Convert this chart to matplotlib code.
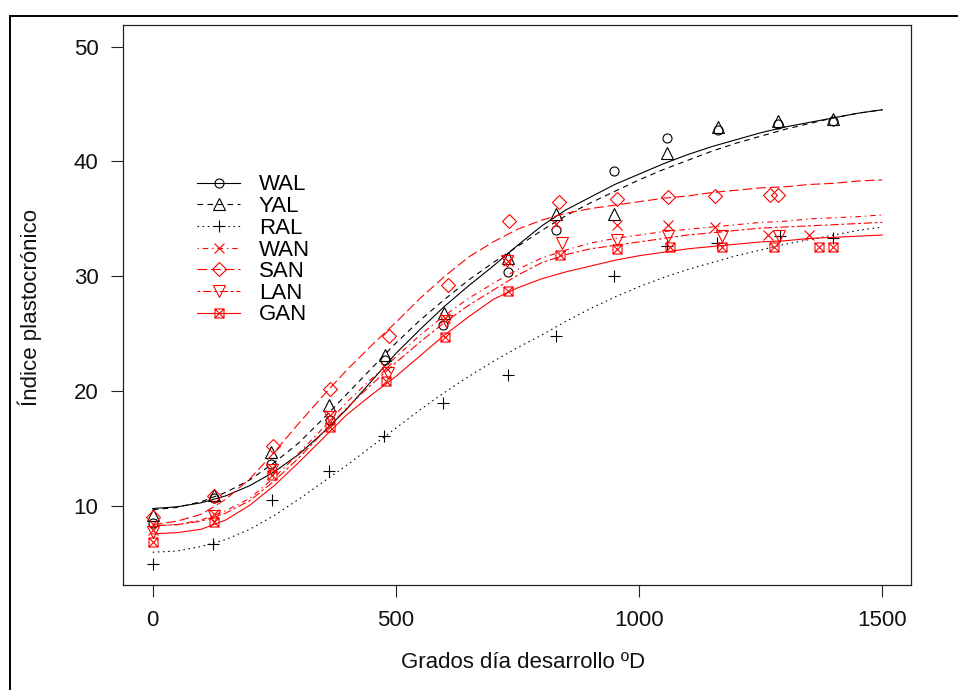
import matplotlib
matplotlib.use("Agg")
import matplotlib.pyplot as plt
from matplotlib.path import Path
from matplotlib.lines import Line2D

plt.rcParams["font.family"] = ["Liberation Sans", "DejaVu Sans"]
plt.rcParams["lines.scale_dashes"] = False

# ---- observed values (growing degree days vs plastochron index) ----
names = ["WAL", "YAL", "RAL", "WAN", "SAN", "LAN", "GAN"]

x_wal = [0, 125, 243, 365, 478, 596, 730, 829, 948, 1057, 1163, 1286, 1398]
y_wal = [8.5, 10.7, 13.7, 17.5, 22.7, 25.8, 30.4, 34.0, 39.2, 42.0, 42.7, 43.3, 43.55]

x_yal = [0, 125, 243, 362, 478, 599, 730, 829, 948, 1057, 1163, 1286, 1398]
y_yal = [9.25, 11.0, 14.7, 18.8, 23.2, 26.8, 31.6, 35.4, 35.4, 40.7, 43.0, 43.5, 43.7]

x_ral = [0, 123, 245, 362, 476, 597, 730, 829, 948, 1057, 1161, 1290, 1398]
y_ral = [5.0, 6.7, 10.5, 13.1, 16.1, 18.95, 21.4, 24.8, 30.0, 32.65, 32.9, 33.5, 33.3]

x_wan = [0, 125, 245, 365, 480, 600, 730, 829, 954, 1060, 1156, 1266, 1350]
y_wan = [7.9, 9.3, 13.3, 17.9, 22.0, 26.4, 31.3, 34.6, 34.5, 34.5, 34.3, 33.6, 33.6]

x_san = [0, 125, 248, 365, 486, 608, 733, 835, 954, 1060, 1157, 1269, 1286]
y_san = [9.1, 10.9, 15.2, 20.2, 24.8, 29.25, 34.85, 36.5, 36.7, 36.9, 37.0, 37.1, 37.1]

x_lan = [0, 125, 245, 365, 484, 604, 728, 841, 954, 1060, 1170, 1288]
y_lan = [7.8, 9.15, 13.15, 17.8, 21.6, 26.1, 31.3, 32.9, 33.2, 33.5, 33.5, 33.5]

x_gan = [0, 125, 245, 365, 480, 600, 730, 838, 954, 1063, 1171, 1277, 1370, 1399]
y_gan = [6.9, 8.65, 12.7, 16.9, 20.9, 24.75, 28.75, 31.86, 32.36, 32.53, 32.6, 32.6, 32.6, 32.6]

# ---- fitted curves, evaluated every 50 degree days ----
fit_x = [0, 50, 100, 150, 200, 250, 300, 350, 400, 450, 500, 550, 600, 650, 700, 750,
         800, 850, 900, 950, 1000, 1050, 1100, 1150, 1200, 1250, 1300, 1350, 1400, 1450, 1500]
fit_wal = [9.8, 9.95, 10.3, 10.9, 11.8, 13.0, 14.5, 16.4, 18.5, 20.9, 23.3, 25.4, 27.4, 29.2,
           30.9, 32.7, 34.4, 35.8, 36.9, 38.0, 38.9, 39.8, 40.6, 41.3, 41.9, 42.5, 43.0,
           43.4, 43.8, 44.2, 44.5]
fit_yal = [9.7, 9.9, 10.4, 11.2, 12.3, 13.8, 15.5, 17.6, 19.8, 22.0, 24.2, 26.2, 28.0, 29.7,
           31.2, 32.6, 34.0, 35.3, 36.4, 37.4, 38.4, 39.3, 40.1, 40.9, 41.6, 42.2, 42.8,
           43.3, 43.8, 44.2, 44.5]
fit_ral = [6.0, 6.1, 6.5, 7.1, 8.0, 9.2, 10.6, 12.1, 13.6, 15.2, 16.8, 18.4, 19.9, 21.3,
           22.6, 23.8, 24.9, 26.1, 27.2, 28.2, 29.1, 29.9, 30.6, 31.2, 31.8, 32.3, 32.8,
           33.2, 33.6, 34.0, 34.3]
fit_wan = [8.3, 8.4, 8.8, 9.6, 10.7, 12.5, 14.6, 16.8, 19.1, 21.1, 23.0, 24.9, 26.6, 28.1,
           29.4, 30.6, 31.6, 32.3, 32.9, 33.3, 33.6, 33.9, 34.1, 34.3, 34.5, 34.7, 34.8,
           35.0, 35.1, 35.2, 35.35]
fit_san = [8.4, 8.7, 9.3, 10.6, 12.4, 14.7, 17.2, 19.6, 21.9, 24.0, 26.0, 28.1, 30.0, 31.7,
           33.0, 34.1, 34.9, 35.5, 35.9, 36.2, 36.5, 36.8, 37.0, 37.3, 37.5, 37.7, 37.8,
           38.0, 38.1, 38.3, 38.4]
fit_lan = [8.3, 8.4, 8.7, 9.4, 10.5, 12.2, 14.2, 16.4, 18.6, 20.6, 22.5, 24.3, 26.0, 27.5,
           28.8, 30.1, 31.2, 31.9, 32.4, 32.7, 33.0, 33.3, 33.6, 33.8, 34.0, 34.2, 34.3,
           34.4, 34.5, 34.6, 34.7]
fit_gan = [7.6, 7.7, 8.0, 8.8, 10.1, 11.8, 13.8, 15.9, 18.0, 19.7, 21.3, 23.1, 24.9, 26.5,
           28.0, 29.0, 29.8, 30.4, 30.9, 31.4, 31.8, 32.1, 32.4, 32.6, 32.8, 33.0, 33.1,
           33.3, 33.4, 33.5, 33.6]

x_ticks = [0, 500, 1000, 1500]
y_ticks = [10, 20, 30, 40, 50]

# open square with a cross inside
sq_x = Path(
    [(-1, -1), (1, -1), (1, 1), (-1, 1), (-1, -1), (-1, -1), (1, 1), (-1, 1), (1, -1)],
    [Path.MOVETO, Path.LINETO, Path.LINETO, Path.LINETO, Path.CLOSEPOLY,
     Path.MOVETO, Path.LINETO, Path.MOVETO, Path.LINETO],
)

series = [
    (x_wal, y_wal, fit_wal, "black", "o", 6.5, "solid"),
    (x_yal, y_yal, fit_yal, "black", "^", 8.5, (0, (4.0, 3.2))),
    (x_ral, y_ral, fit_ral, "black", "+", 9.0, (0, (1.1, 2.6))),
    (x_wan, y_wan, fit_wan, "red", "x", 6.5, (0, (1.0, 2.8, 4.0, 2.8))),
    (x_san, y_san, fit_san, "red", "D", 7.3, (0, (7.0, 2.8))),
    (x_lan, y_lan, fit_lan, "red", "v", 8.5, (0, (2.0, 2.0, 6.0, 2.0))),
    (x_gan, y_gan, fit_gan, "red", sq_x, 6.5, "solid"),
]

W, H, DPI = 958, 690, 100
fig = plt.figure(figsize=(W / DPI, H / DPI), dpi=DPI)
ax = fig.add_axes([122.7 / W, 1 - 585.3 / H, 788.6 / W, 560.0 / H])

handles = []
for (xs, ys, fit, col, mk, ms, ls), name in zip(series, names):
    ax.plot(fit_x, fit, color=col, lw=0.8, linestyle=ls)
    ax.plot(xs, ys, linestyle="none", marker=mk, markersize=ms,
            markerfacecolor="none", markeredgecolor=col, markeredgewidth=0.8)
    handles.append(Line2D([], [], color=col, lw=0.8, linestyle=ls, marker=mk,
                          markersize=ms, markerfacecolor="none",
                          markeredgecolor=col, markeredgewidth=0.8))

ax.set_xlim(-61.7, 1559.6)
ax.set_ylim(3.12, 51.85)
ax.set_xticks(x_ticks)
ax.set_yticks(y_ticks)
ax.tick_params(direction="out", length=8.5, width=0.8, labelsize=16, pad=9,
               color="#222222", labelcolor="#111111")
for sp in ax.spines.values():
    sp.set_linewidth(0.9)
    sp.set_color("#222222")

fig.text(523 / W, 1 - 662 / H, "Grados día desarrollo ºD", ha="center", va="center",
         fontsize=16, color="#111111")
fig.text(30 / W, 1 - 308 / H, "Índice plastocrónico", ha="center", va="center",
         rotation=90, fontsize=16, color="#111111")

ax.legend(handles, names, loc="upper left",
          bbox_to_anchor=(197.3 / W, 1 - 174.5 / H), bbox_transform=fig.transFigure,
          frameon=False, borderpad=0, borderaxespad=0, handlelength=1.92,
          handletextpad=0.85, labelspacing=0.03, numpoints=1, fontsize=16)

# outer frame lines
fig.add_artist(Line2D([10 / W, 1.0], [1 - 15.5 / H, 1 - 15.5 / H],
                      transform=fig.transFigure, color="black", lw=1.4))
fig.add_artist(Line2D([10 / W, 10 / W], [0.0, 1 - 15.5 / H],
                      transform=fig.transFigure, color="black", lw=1.4))

fig.savefig("out.png", dpi=DPI, facecolor="white")
